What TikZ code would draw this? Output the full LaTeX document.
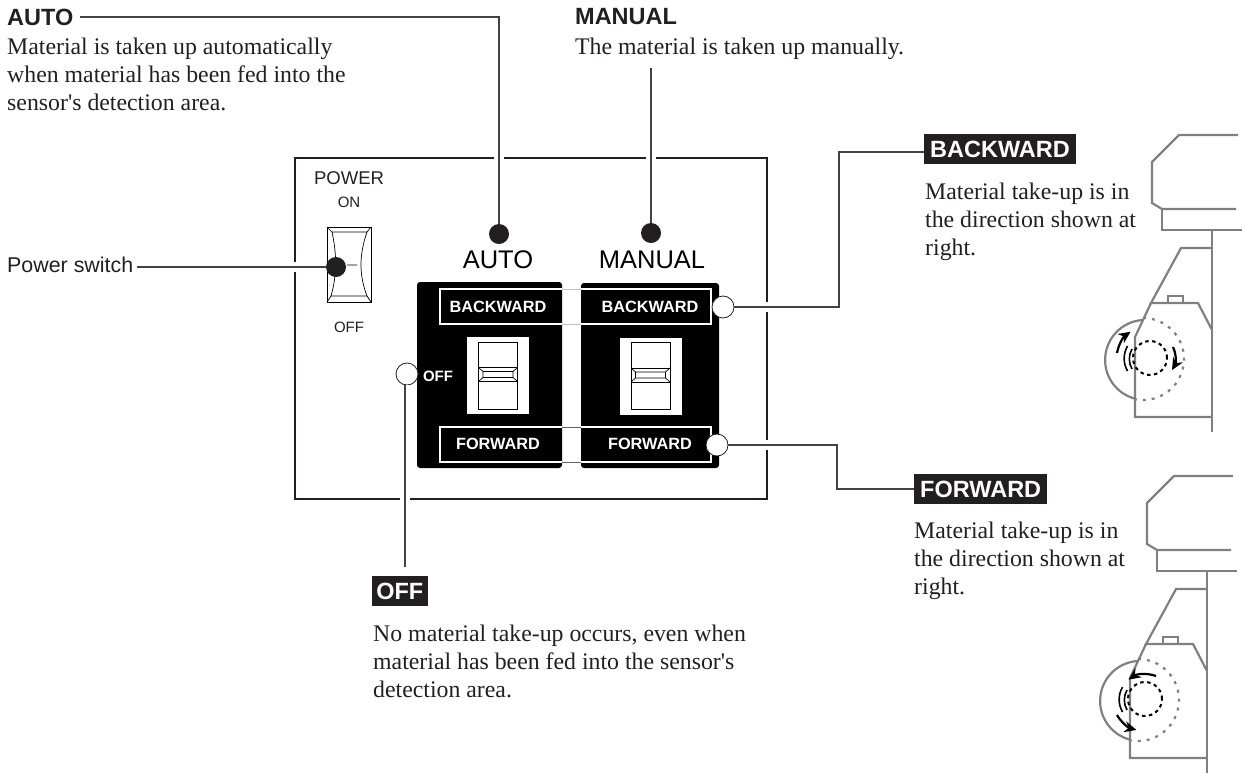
\documentclass[tikz,border=0pt]{standalone}
\usepackage{fontspec}
\setmainfont{Liberation Serif}
\setsansfont{Liberation Sans}
\usetikzlibrary{arrows.meta}
\usetikzlibrary{positioning}

\definecolor{inkblack}{HTML}{231F20}
\definecolor{figgray}{HTML}{808080}

\tikzset{
	body text/.style={inner sep=0pt,anchor=north west,align=left,text=inkblack,font=\fontsize{23.8}{28}\selectfont},
	head text/.style={inner sep=0pt,anchor=west,text=inkblack,font=\sffamily\bfseries\fontsize{23.5}{25}\selectfont},
	black tag/.style={fill=inkblack,text=white,inner xsep=6pt,inner ysep=0pt,minimum height=30pt,font=\sffamily\bfseries\fontsize{23.5}{25}\selectfont},
	dot/.style={circle,fill=inkblack,minimum size=20pt,inner sep=0pt},
	hole/.style={circle,fill=white,draw=inkblack,line width=0.8pt,minimum size=22pt,inner sep=0pt},
	leader/.style={draw=inkblack!85,line width=1.2pt,preaction={draw=white,line width=10pt}},
	sw text/.style={inner sep=0pt,text=white,font=\sffamily\bfseries\fontsize{16.3}{18}\selectfont},
	panel text/.style={inner sep=0pt,text=inkblack,font=\sffamily\fontsize{15}{17}\selectfont},
	big text/.style={inner sep=0pt,text=black,font=\sffamily\fontsize{25.5}{27}\selectfont},
	fig line/.style={figgray,line width=2.2pt},
	take arrow/.style={-{Stealth[length=12pt,width=11pt]},black,line width=2.2pt},
	pics/slider/.style={code={
		\fill[white] (-31,-38.5) rectangle (31,38.5);
		\draw[line width=0.9pt] (-19.5,-33.5) rectangle (19.5,33.5);
		\draw[line width=0.9pt] (-19.5,-8) -- (19.5,-8) (-19.5,6) -- (19.5,6);
		\draw[line width=0.7pt] (-19.5,-8) -- (-15,-4) -- (15,-4) -- (19.5,-8) (-19.5,6) -- (-15,2) -- (15,2) -- (19.5,6) (-15,-4) -- (-15,2) (15,-4) -- (15,2);
	}},
	pics/takeup/.style={code={
		\draw[fig line] (1238,135) -- (1179,135) -- (1152,162) -- (1152,203) -- (1162,209) -- (1236,209);
		\draw[fig line] (1162,209) -- (1162,230) -- (1242,230);
		\draw[fig line] (1212,230) -- (1212,432);
		\draw[fig line] (1212,248) -- (1181,248) -- (1151,303) -- (1198,303) -- (1212,330);
		\draw[fig line] (1168,303) -- (1168,296) -- (1183,296) -- (1183,303);
		\draw[fig line] (1151,303) -- (1135,337) -- (1135,417) -- (1212,417);
		\draw[fig line] (1143,320) arc[start angle=93,end angle=255,radius=40pt];
		\draw[fig line,dash pattern=on 3pt off 6pt] (1143,318) arc[start angle=90,end angle=-100,radius=41pt];
		\draw[black,line width=2pt,dash pattern=on 3.5pt off 3.5pt] (1150,358) circle[radius=17pt];
		\draw[black,line width=1.6pt] (1127.5,346) arc[start angle=150,end angle=210,radius=25pt];
		\draw[black,line width=1.6pt] (1132,349) arc[start angle=150,end angle=210,radius=20pt];
	}}
}

\begin{document}
\begin{tikzpicture}[x=1pt,y=-1pt]
	\useasboundingbox (0,0) rectangle (1245,772);

	% control panel
	\draw[inkblack,line width=1.4pt] (295,158) rectangle (767,499);

	% power switch
	\draw[line width=0.9pt] (327,227) rectangle (371,302);
	\draw[line width=0.7pt] (327,227) -- (332,232) -- (367,232) -- (371,227)
		(327,302) -- (331,296) -- (367,296) -- (371,302)
		(332,232) .. controls (337,255) and (337,275) .. (331,296)
		(367,232) .. controls (359,255) and (359,275) .. (367,296)
		(347,265) -- (357,265);
	\node[panel text,font=\sffamily\fontsize{18.5}{20}\selectfont] (powerlabel) at (349,178) {POWER};
	\node[panel text] (onlabel) at (349,202) {ON};
	\node[panel text] (offlabel) at (349,327) {OFF};

	% black blocks
	\fill[black,rounded corners=3pt] (417,282) rectangle (562,468);
	\fill[black,rounded corners=3pt] (581,283) rectangle (719,468);
	\draw[white,line width=1.5pt] (562,289) -- (440,289) -- (440,324) -- (562,324)
		(562,427) -- (440,427) -- (440,462) -- (562,462);
	\draw[white,line width=1.5pt] (581,289) -- (711,289) -- (711,324) -- (581,324)
		(581,427) -- (711,427) -- (711,462) -- (581,462);
	\draw[figgray!50,line width=0.6pt] (562,289) -- (581,289) (562,324) -- (581,324);
	\draw[inkblack!70,line width=0.7pt] (562,427) -- (581,427) (562,462) -- (581,462);
	\pic at (498,375.5) {slider};
	\pic at (650.5,376) {slider};

	\node[big text] (autolabel) at (498,260) {AUTO};
	\node[big text] (manuallabel) at (652,260) {MANUAL};
	\node[sw text] (autoback) at (498,307) {BACKWARD};
	\node[sw text] (autofwd) at (498,444) {FORWARD};
	\node[sw text] (manback) at (650,307) {BACKWARD};
	\node[sw text] (manfwd) at (650,444) {FORWARD};
	\node[sw text,font=\sffamily\bfseries\fontsize{15}{17}\selectfont] (offsw) at (438,376) {OFF};

	% markers
	\node[dot] (autodot) at (499,234) {};
	\node[dot] (mandot) at (651,233) {};
	\node[dot] (powerdot) at (336,267) {};
	\node[hole] (offhole) at (407,374) {};
	\node[hole] (backhole) at (723,307) {};
	\node[hole] (fwdhole) at (717,445) {};

	% texts
	\node[head text] (autohead) at (7,17) {AUTO};
	\node[body text] (autotext) at (7,38) {Material is taken up automatically\\when material has been fed into the\\sensor\textquotesingle s detection area.};
	\node[head text] (manhead) at (575,17) {MANUAL};
	\node[body text] (mantext) at (575,38) {The material is taken up manually.};
	\node[inner sep=0pt,anchor=west,text=inkblack,font=\sffamily\fontsize{21.4}{23}\selectfont] (powertext) at (7,265) {Power switch};
	\node[black tag,anchor=west] (backtag) at (924,149) {BACKWARD};
	\node[body text] (backtext) at (925,183) {Material take-up is in\\the direction shown at\\right.};
	\node[black tag,anchor=west] (fwdtag) at (914,489) {FORWARD};
	\node[body text] (fwdtext) at (914,522) {Material take-up is in\\the direction shown at\\right.};
	\node[black tag,anchor=east,inner xsep=4.5pt] (offtag) at (428,591) {OFF};
	\node[body text] (offtext) at (373,625) {No material take-up occurs, even when\\material has been fed into the sensor\textquotesingle s\\detection area.};

	% leaders
	\coordinate (manstart) at (651,68);
	\coordinate (backbend) at (839,152);
	\coordinate (fwdbend) at (837,489);
	\coordinate (offend) at (405,567);
	\path[leader,shorten <=4pt] (powertext.east |- powerdot) -- (powerdot.west);
	\path[leader,shorten <=6pt] (autohead.east) -| (autodot.north);
	\path[leader] (manstart) -- (mandot.north);
	\path[leader] (backhole.east) -- (backhole.east -| backbend) -- (backbend) -- (backbend -| backtag.west);
	\path[leader] (fwdhole.east) -- (fwdhole.east -| fwdbend) -- (fwdbend) -- (fwdtag.west);
	\path[leader] (offhole.south -| offend) -- (offend);

	% take-up figures
	\pic at (0,0) {takeup};
	\draw[take arrow] (1117,353) arc[start angle=170,end angle=125,radius=33pt];
	\draw[take arrow] (1173,347) arc[start angle=25,end angle=-30,radius=25pt];
	\pic at (-5,341) {takeup};
	\draw[take arrow] (1156,676) arc[start angle=70,end angle=125,radius=30pt];
	\draw[take arrow] (1117,715) arc[start angle=210,end angle=255,radius=32pt];
\end{tikzpicture}
\end{document}
